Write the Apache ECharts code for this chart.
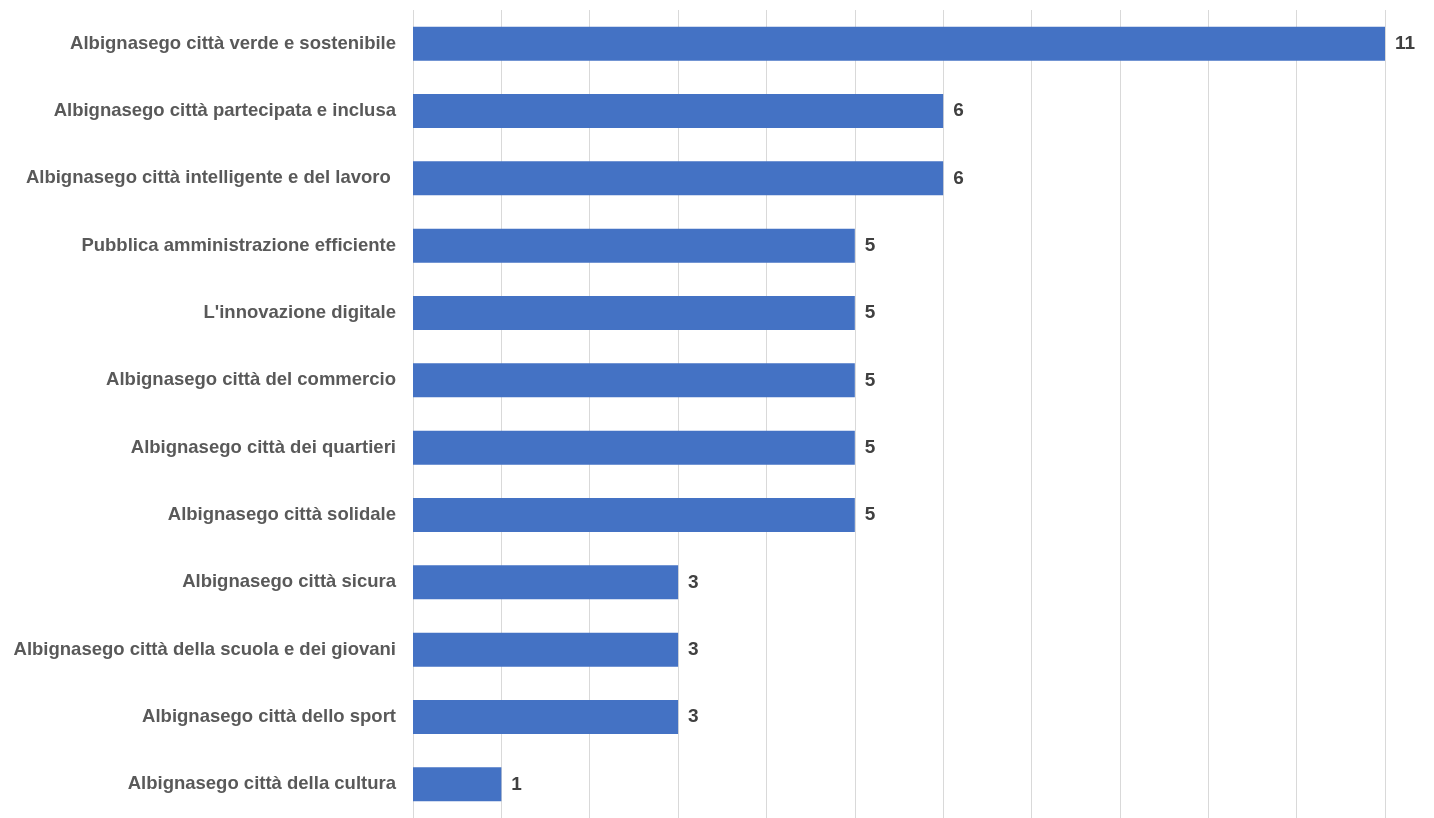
<!DOCTYPE html>
<html>
<head>
<meta charset="utf-8">
<script src="https://cdn.jsdelivr.net/npm/echarts@6/dist/echarts.min.js"></script>
<style>
html,body{margin:0;padding:0;background:#fff;}
#chart{width:1434px;height:818px;}
</style>
</head>
<body>
<div id="chart"></div>
<script>
const categories = [
  "Albignasego città verde e sostenibile",
  "Albignasego città partecipata e inclusa",
  "Albignasego città intelligente e del lavoro ",
  "Pubblica amministrazione efficiente",
  "L'innovazione digitale",
  "Albignasego città del commercio",
  "Albignasego città dei quartieri",
  "Albignasego città solidale",
  "Albignasego città sicura",
  "Albignasego città della scuola e dei giovani",
  "Albignasego città dello sport",
  "Albignasego città della cultura"
];
const values = [11, 6, 6, 5, 5, 5, 5, 5, 3, 3, 3, 1];

const chart = echarts.init(document.getElementById('chart'));
chart.setOption({
  animation: false,
  grid: { left: 413, top: 10, width: 972, height: 811, containLabel: false },
  xAxis: {
    type: 'value', min: 0, max: 11, interval: 1,
    axisLabel: { show: false },
    axisLine: { show: false },
    axisTick: { show: false },
    splitLine: { show: true, lineStyle: { color: '#d9d9d9', width: 1 } }
  },
  yAxis: {
    type: 'category', data: categories, inverse: true,
    axisLine: { show: false },
    axisTick: { show: false },
    axisLabel: {
      margin: 17,
      color: '#595959',
      fontFamily: 'Liberation Sans, Arial, sans-serif',
      fontWeight: 'bold',
      fontSize: 18.5
    }
  },
  series: [{
    type: 'bar',
    data: values,
    barWidth: 34,
    itemStyle: { color: '#4472C4' },
    label: {
      show: true, position: 'right', distance: 10,
      color: '#404040',
      fontFamily: 'Liberation Sans, Arial, sans-serif',
      fontWeight: 'bold', fontSize: 19
    }
  }]
});
</script>
</body>
</html>
